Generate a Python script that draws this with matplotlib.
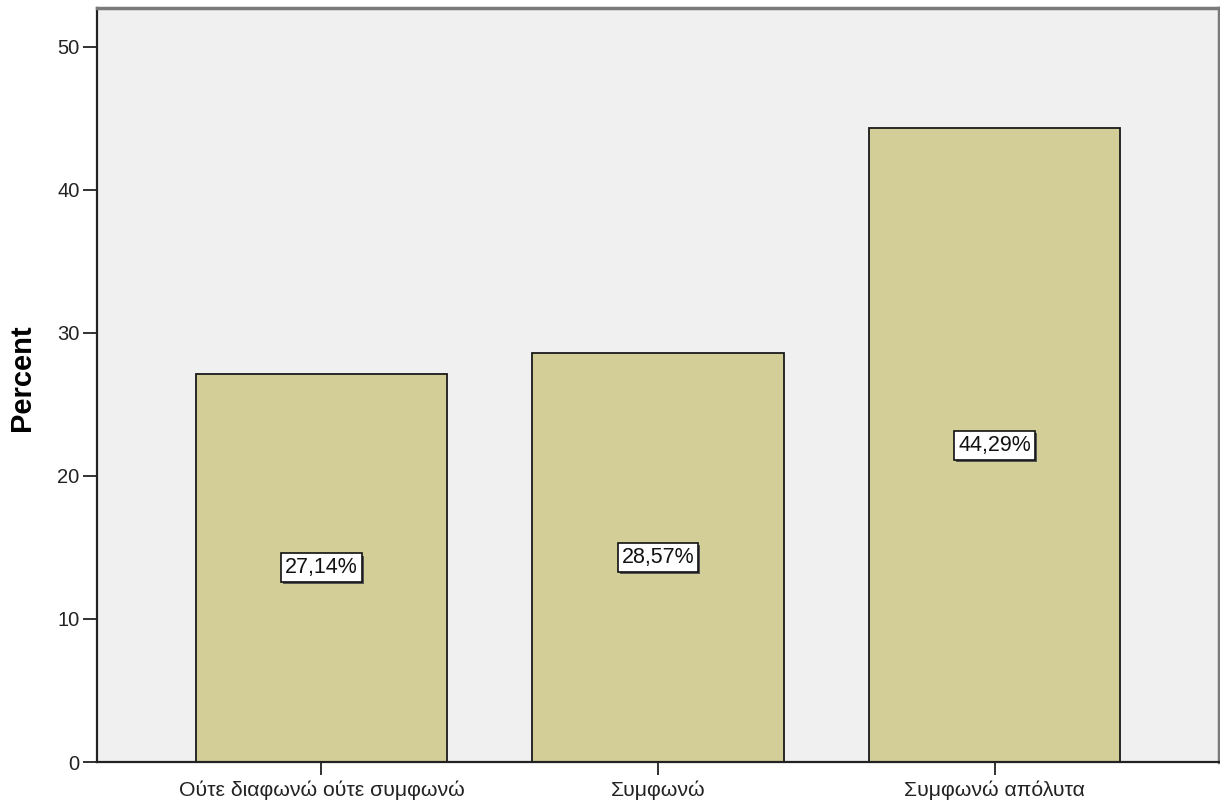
import matplotlib.pyplot as plt
import matplotlib.patheffects as pe

categories = ["Ούτε διαφωνώ ούτε συμφωνώ", "Συμφωνώ", "Συμφωνώ απόλυτα"]
percents = [27.14, 28.57, 44.29]
labels = ["27,14%", "28,57%", "44,29%"]

plt.rcParams['font.family'] = ['Liberation Sans', 'DejaVu Sans']

fig = plt.figure(figsize=(12.2, 8.05), dpi=100)
ax = fig.add_axes([97 / 1220, 1 - 762 / 805, 1122 / 1220, 754 / 805])
ax.set_facecolor("#f0f0f0")

x = range(len(categories))
ax.bar(x, percents, width=0.746, color="#d3ce98", edgecolor="#1a1a1a", linewidth=1.3, zorder=2)

# percent labels in white boxes with a small shadow
for xi, p, lab in zip(x, percents, labels):
    t = ax.text(xi, p / 2, lab, ha="center", va="center", fontsize=15.5, color="#111111", zorder=3,
                bbox=dict(boxstyle="square,pad=0.18", facecolor="white", edgecolor="#111111", linewidth=1.2))
    t.get_bbox_patch().set_path_effects([
        pe.SimplePatchShadow(offset=(1.5, -1.5), shadow_rgbFace="#555555", alpha=1.0),
        pe.Normal()])

ax.set_xlim(-0.667, 2.667)
ax.set_ylim(0, 52.7)
ax.set_yticks([0, 10, 20, 30, 40, 50])
ax.set_xticks(list(x))
ax.set_xticklabels(categories)
ax.tick_params(axis="y", labelsize=14.5, length=10, width=1.3, pad=2.5, color="#222222", labelcolor="#222222")
ax.tick_params(axis="x", labelsize=15.3, length=9, width=1.3, pad=4, color="#222222", labelcolor="#222222")
ax.set_ylabel("Percent", fontsize=21, fontweight="bold")
ax.yaxis.set_label_coords(-0.054, 0.51)

ax.spines["left"].set_linewidth(1.6)
ax.spines["bottom"].set_linewidth(1.6)
ax.spines["left"].set_color("#222222")
ax.spines["bottom"].set_color("#222222")
ax.spines["top"].set_color("#7a7a7a")
ax.spines["right"].set_color("#7a7a7a")
ax.spines["top"].set_linewidth(2.5)
ax.spines["right"].set_linewidth(2.5)

plt.savefig("out.png", dpi=100)
